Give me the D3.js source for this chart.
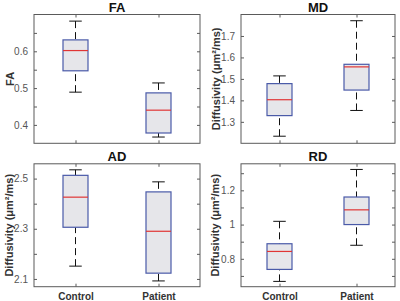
<!DOCTYPE html>
<html>
<head>
<meta charset="utf-8">
<script src="https://cdn.jsdelivr.net/npm/d3@7"></script>
<style>
  body { margin: 0; background: #fff; }
  svg { display: block; font-family: "Liberation Sans", Arial, Helvetica, sans-serif; }
</style>
</head>
<body>
<div id="chart"></div>
<script>
// groups on the x axis
const groups = ["Control", "Patient"];

// box stats per group: [whisker low, q1, median, q3, whisker high]
const faStats = [[0.489, 0.547, 0.602, 0.631, 0.682], [0.367, 0.378, 0.440, 0.487, 0.514]];
const mdStats = [[1.233, 1.329, 1.403, 1.478, 1.514], [1.353, 1.448, 1.556, 1.568, 1.771]];
const adStats = [[2.151, 2.306, 2.426, 2.513, 2.535], [2.092, 2.123, 2.290, 2.447, 2.487]];
const rdStats = [[0.668, 0.738, 0.843, 0.888, 1.019], [0.879, 1.000, 1.086, 1.161, 1.322]];

// y ticks (all marks) and which ones get a label
const faTicks = [0.40, 0.45, 0.50, 0.55, 0.60, 0.65];
const faLabels = ["0.4", "0.5", "0.6"];
const mdTicks = [1.3, 1.4, 1.5, 1.6, 1.7];
const mdLabels = ["1.3", "1.4", "1.5", "1.6", "1.7"];
const adTicks = [2.1, 2.2, 2.3, 2.4, 2.5];
const adLabels = ["2.1", "2.3", "2.5"];
const rdTicks = [0.7, 0.8, 0.9, 1.0, 1.1, 1.2, 1.3];
const rdLabels = ["0.8", "1", "1.2"];

const diffLabel = "Diffusivity (μm²/ms)";

const panels = [
    {title: "FA", ylab: "FA", stats: faStats, ticks: faTicks, labels: faLabels, domain: [0.35, 0.70],
     x0: 34, x1: 200, y0: 14.5, y1: 143.3, ylabX: 14, showX: false},
    {title: "MD", ylab: diffLabel, stats: mdStats, ticks: mdTicks, labels: mdLabels, domain: [1.2, 1.8],
     x0: 241, x1: 395, y0: 14.5, y1: 143.3, ylabX: 220, showX: false},
    {title: "AD", ylab: diffLabel, stats: adStats, ticks: adTicks, labels: adLabels, domain: [2.069, 2.559],
     x0: 34, x1: 200, y0: 163.8, y1: 286.7, ylabX: 13, showX: true},
    {title: "RD", ylab: diffLabel, stats: rdStats, ticks: rdTicks, labels: rdLabels, domain: [0.637, 1.355],
     x0: 241, x1: 395, y0: 163.8, y1: 286.7, ylabX: 219, showX: true}
];

const svg = d3.select("#chart").append("svg")
    .attr("width", 400)
    .attr("height", 301);

const axisColor = "#5a5a5a";
const boxW = 25;

panels.forEach(p => {
    const x = d3.scalePoint().domain(groups).range([p.x0, p.x1]).padding(0.5);
    const y = d3.scaleLinear().domain(p.domain).range([p.y1, p.y0]);
    const g = svg.append("g");

    // inward ticks, left and right
    const fmt = d => {
        const s = String(+d.toFixed(2));
        return p.labels.includes(s) ? s : "";
    };
    const left = g.append("g")
        .attr("transform", `translate(${p.x0},0)`)
        .call(d3.axisLeft(y).tickValues(p.ticks).tickSize(-3).tickPadding(6).tickFormat(fmt));
    const right = g.append("g")
        .attr("transform", `translate(${p.x1},0)`)
        .call(d3.axisRight(y).tickValues(p.ticks).tickSize(-3).tickFormat(""));
    const bottom = g.append("g")
        .attr("transform", `translate(0,${p.y1})`)
        .call(d3.axisBottom(x).tickSize(-3).tickPadding(6).tickFormat(p.showX ? (d => d) : ""));
    const top = g.append("g")
        .attr("transform", `translate(0,${p.y0})`)
        .call(d3.axisTop(x).tickSize(-3).tickFormat(""));
    [left, right, bottom, top].forEach(a => {
        a.select(".domain").remove();
        a.selectAll("line").attr("stroke", axisColor);
    });
    left.selectAll("text").attr("fill", "#555").style("font-size", "10px");
    bottom.selectAll("text").attr("fill", "#333").style("font-size", "10px").style("font-weight", "bold");

    g.append("rect")
        .attr("x", p.x0).attr("y", p.y0)
        .attr("width", p.x1 - p.x0).attr("height", p.y1 - p.y0)
        .attr("fill", "none").attr("stroke", axisColor).attr("stroke-width", 1);

    // boxes
    const box = g.selectAll(".bx").data(p.stats).enter().append("g").attr("class", "bx");
    box.append("line")
        .attr("x1", (d, i) => x(groups[i])).attr("x2", (d, i) => x(groups[i]))
        .attr("y1", d => y(d[0])).attr("y2", d => y(d[1]))
        .attr("stroke", "#111").attr("stroke-dasharray", "7,4");
    box.append("line")
        .attr("x1", (d, i) => x(groups[i])).attr("x2", (d, i) => x(groups[i]))
        .attr("y1", d => y(d[4])).attr("y2", d => y(d[3]))
        .attr("stroke", "#111").attr("stroke-dasharray", "7,4");
    [0, 4].forEach(k => {
        box.append("line")
            .attr("x1", (d, i) => x(groups[i]) - boxW / 4).attr("x2", (d, i) => x(groups[i]) + boxW / 4)
            .attr("y1", d => y(d[k])).attr("y2", d => y(d[k]))
            .attr("stroke", "#111");
    });
    box.append("rect")
        .attr("x", (d, i) => x(groups[i]) - boxW / 2)
        .attr("y", d => y(d[3]))
        .attr("width", boxW)
        .attr("height", d => y(d[1]) - y(d[3]))
        .attr("fill", "#e6e6ea").attr("stroke", "#4a5aa8").attr("stroke-width", 1.2);
    box.append("line")
        .attr("x1", (d, i) => x(groups[i]) - boxW / 2).attr("x2", (d, i) => x(groups[i]) + boxW / 2)
        .attr("y1", d => y(d[2])).attr("y2", d => y(d[2]))
        .attr("stroke", "#e03535").attr("stroke-width", 1.2);

    // title and y label
    g.append("text")
        .attr("x", (p.x0 + p.x1) / 2).attr("y", p.y0 - 3)
        .attr("text-anchor", "middle")
        .style("font-size", "13px").style("font-weight", "bold").attr("fill", "#111")
        .text(p.title);
    g.append("text")
        .attr("transform", `translate(${p.ylabX},${(p.y0 + p.y1) / 2}) rotate(-90)`)
        .attr("text-anchor", "middle")
        .style("font-size", "11px").style("font-weight", "bold").attr("fill", "#333")
        .text(p.ylab);
});
</script>
</body>
</html>
